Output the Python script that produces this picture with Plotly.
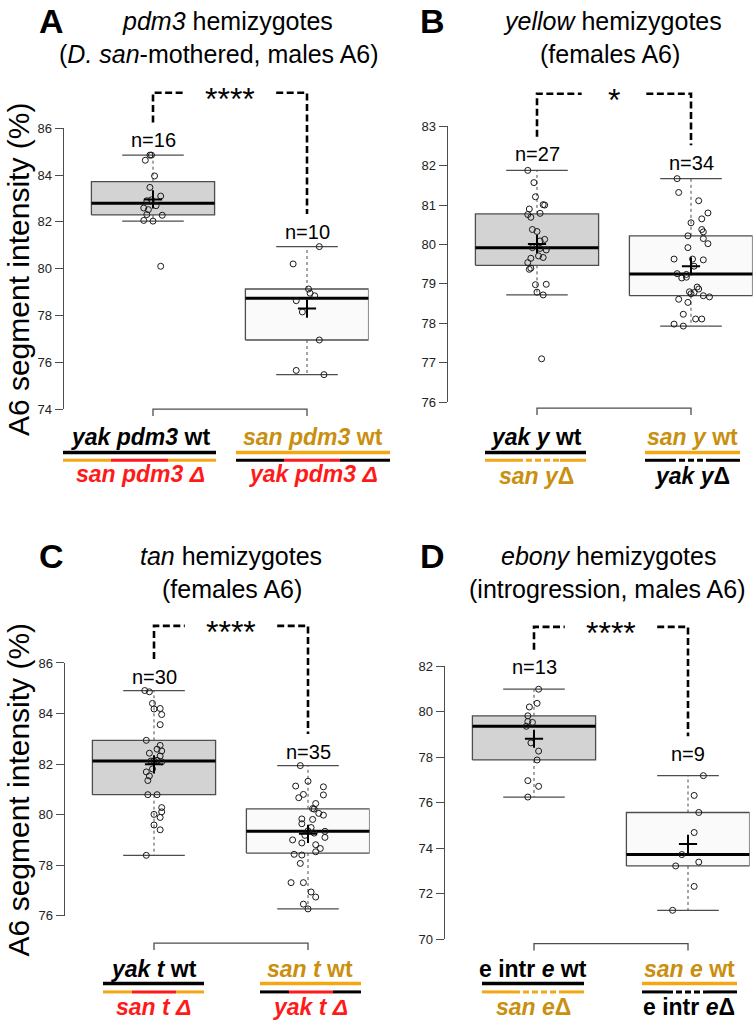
import math
import plotly.graph_objects as go

W, H = 754, 1028
FONT = "Liberation Sans, Arial, sans-serif"

# ---------------- data ----------------
# Panel A: pdm3 hemizygotes
pdm3_yak_wt = [84.85, 84.85, 84.63, 83.96, 83.47, 83.10, 82.94, 82.90, 82.69, 82.59, 82.52, 82.31, 82.28, 82.06, 82.03, 80.10]
pdm3_yak_wt_jit = [-0.02, -0.01, -0.05, 0.01, -0.02, 0.05, -0.01, -0.04, 0.02, -0.06, -0.03, -0.04, 0.06, -0.06, 0.00, 0.05]
pdm3_san_wt = [80.94, 80.20, 79.13, 78.95, 78.84, 78.63, 78.15, 76.95, 75.65, 75.47]
pdm3_san_wt_jit = [0.08, -0.09, 0.01, 0.02, 0.05, -0.07, -0.03, 0.08, -0.07, 0.11]
pdm3_ticks = [74, 76, 78, 80, 82, 84, 86]

# Panel B: yellow hemizygotes
y_yak_wt = [81.88, 81.57, 81.21, 81.01, 81.00, 80.90, 80.79, 80.76, 80.69, 80.38, 80.33, 80.13, 80.09, 79.92,
            79.90, 79.86, 79.71, 79.67, 79.65, 79.54, 79.40, 79.37, 78.99, 78.98, 78.79, 78.72, 77.10]
y_yak_wt_jit = [-0.06, -0.02, -0.01, 0.04, 0.05, -0.05, 0.02, -0.06, -0.04, -0.03, 0.00, 0.05, 0.02, -0.03,
                0.02, 0.06, 0.01, 0.04, -0.04, -0.06, -0.04, -0.05, 0.06, -0.01, 0.00, 0.04, 0.03]
y_san_wt = [81.67, 81.32, 81.11, 80.80, 80.65, 80.55, 80.38, 80.32, 80.22, 80.15, 80.02, 79.92, 79.63, 79.63,
            79.61, 79.45, 79.26, 79.24, 79.17, 79.15, 78.92, 78.87, 78.80, 78.78, 78.75, 78.70, 78.67, 78.61,
            78.53, 78.23, 78.11, 78.11, 77.98, 77.93]
y_san_wt_jit = [-0.09, -0.08, 0.05, 0.11, 0.07, 0.00, 0.07, 0.08, -0.02, 0.08, 0.11, -0.02, -0.11, 0.01,
                0.08, 0.02, -0.09, -0.03, -0.03, -0.06, 0.04, 0.05, -0.01, 0.02, 0.00, 0.08, 0.12, -0.08,
                -0.02, -0.05, 0.03, 0.07, -0.11, -0.05]
y_ticks = [76, 77, 78, 79, 80, 81, 82, 83]

# Panel C: tan hemizygotes
t_yak_wt = [84.91, 84.86, 84.40, 84.20, 84.18, 83.96, 83.56, 82.94, 82.74, 82.59, 82.52, 82.43, 82.32, 82.15,
            82.13, 82.12, 82.09, 81.81, 81.69, 81.53, 81.35, 80.79, 80.79, 80.28, 80.11, 80.01, 79.89, 79.59,
            79.40, 78.39]
t_yak_wt_jit = [-0.06, -0.03, -0.01, 0.04, 0.00, 0.05, 0.04, -0.05, 0.04, 0.02, 0.05, -0.03, 0.04, 0.02,
                0.00, -0.02, 0.05, -0.01, -0.05, -0.03, -0.04, -0.04, 0.02, 0.05, 0.05, 0.00, 0.04, 0.00,
                0.04, -0.05]
t_san_wt = [81.94, 81.32, 81.13, 81.10, 80.80, 80.78, 80.67, 80.44, 80.24, 80.22, 80.05, 79.98, 79.83, 79.81,
            79.64, 79.49, 79.36, 79.34, 79.27, 79.18, 79.10, 79.00, 78.88, 78.81, 78.66, 78.53, 78.43, 78.40,
            78.07, 77.31, 77.31, 76.94, 76.74, 76.46, 76.27]
t_san_wt_jit = [-0.05, 0.00, -0.08, 0.10, -0.03, 0.10, -0.06, 0.05, 0.03, 0.04, 0.07, 0.10, -0.04, 0.03,
                -0.04, 0.02, 0.00, 0.11, 0.04, -0.02, 0.11, -0.10, -0.04, 0.05, 0.08, 0.05, -0.09, -0.04,
                -0.05, -0.11, -0.03, 0.02, 0.05, -0.03, 0.00]
t_ticks = [76, 78, 80, 82, 84, 86]

# Panel D: ebony hemizygotes
e_intr_wt = [80.99, 80.37, 80.21, 79.82, 79.57, 79.53, 79.36, 78.63, 78.27, 77.88, 76.97, 76.72, 76.25]
e_intr_wt_jit = [0.03, 0.02, -0.03, -0.04, -0.04, -0.01, -0.05, -0.02, 0.03, 0.02, -0.04, 0.03, -0.04]
e_san_wt = [77.19, 76.32, 75.57, 74.69, 73.72, 73.39, 73.22, 72.32, 71.27]
e_san_wt_jit = [0.10, 0.04, 0.07, 0.04, -0.04, 0.07, -0.08, 0.04, -0.10]
e_ticks = [70, 72, 74, 76, 78, 80, 82]

# ---------------- colours ----------------
GRAY_BOX = "#d3d3d3"
WHITE_BOX = "#fafafa"
EDGE = "#4d4d4d"
ORANGE = "#f3a712"
GOLD = "#c98f0e"
RED = "#ff1a1a"

# ---------------- layout geometry (pixels) ----------------
panels = [
    dict(letter="A", g1=(pdm3_yak_wt, pdm3_yak_wt_jit), g2=(pdm3_san_wt, pdm3_san_wt_jit), ticks=pdm3_ticks,
         c1=153, p_hi=123, p_lo=408, top=60, bot=425, base=408, sig=87, stars="****", gap=0.3, nshift=15,
         t1="<i>pdm3</i> hemizygotes", t2="(<i>D. san</i>-mothered, males A6)", tx1=228, tx2=219, ty=14),
    dict(letter="B", g1=(y_yak_wt, y_yak_wt_jit), g2=(y_san_wt, y_san_wt_jit), ticks=y_ticks,
         c1=537, p_hi=121, p_lo=401, top=60, bot=425, base=407, sig=88, stars="*", gap=0.21, nshift=16,
         t1="<i>yellow</i> hemizygotes", t2="(females A6)", tx1=612, tx2=610, ty=14),
    dict(letter="C", g1=(t_yak_wt, t_yak_wt_jit), g2=(t_san_wt, t_san_wt_jit), ticks=t_ticks,
         c1=154, p_hi=665.7, p_lo=922.2, top=600, bot=965, base=950, sig=628, stars="****", gap=0.3, nshift=14,
         t1="<i>tan</i> hemizygotes", t2="(females A6)", tx1=231, tx2=232, ty=557),
    dict(letter="D", g1=(e_intr_wt, e_intr_wt_jit), g2=(e_san_wt, e_san_wt_jit), ticks=e_ticks,
         c1=534, p_hi=669, p_lo=946, top=600, bot=965, base=950.5, sig=629, stars="****", gap=0.3, nshift=22,
         t1="<i>ebony</i> hemizygotes", t2="(introgression, males A6)", tx1=608, tx2=607, ty=557),
]
UNIT = 154.0
XR = (0.42, 2.4)


def fivenum_stats(vals):
    x = sorted(vals)
    n = len(x)
    n4 = math.floor((n + 3) / 2) / 2
    idx = [1, n4, (n + 1) / 2, n + 1 - n4, n]
    fn = [0.5 * (x[math.floor(i) - 1] + x[math.ceil(i) - 1]) for i in idx]
    iqr = fn[3] - fn[1]
    lo = min(v for v in x if v >= fn[1] - 1.5 * iqr)
    hi = max(v for v in x if v <= fn[3] + 1.5 * iqr)
    return dict(q1=fn[1], med=fn[2], q3=fn[3], lo=lo, hi=hi, mean=sum(x) / n, n=n)


fig = go.Figure()
annotations = []
shapes = []


def px2x(px):
    return px / W


def px2y(py):
    return 1 - py / H


def add_line(x0, x1, y, color, width=3.5, dash=None):
    ln = dict(color=color, width=width)
    if dash:
        ln["dash"] = dash
    shapes.append(dict(type="line", xref="paper", yref="paper", x0=px2x(x0), x1=px2x(x1),
                       y0=px2y(y), y1=px2y(y), line=ln))


def add_text(x, y, text, size, color="black", angle=0, xanchor="center"):
    annotations.append(dict(x=px2x(x), y=px2y(y), xref="paper", yref="paper", text=text, showarrow=False,
                            xanchor=xanchor, yanchor="middle", textangle=angle,
                            font=dict(family=FONT, size=size, color=color)))


for k, p in enumerate(panels, start=1):
    xa = "x" if k == 1 else f"x{k}"
    ya = "y" if k == 1 else f"y{k}"
    yt = f"y{k + 4}"
    tlo, thi = min(p["ticks"]), max(p["ticks"])
    s = (p["p_lo"] - p["p_hi"]) / (thi - tlo)

    def v(py, p=p, s=s, thi=thi):
        return thi - (py - p["p_hi"]) / s

    left_px = p["c1"] - (1 - XR[0]) * UNIT
    right_px = p["c1"] + (XR[1] - 1) * UNIT
    xdom = [left_px / W, min(right_px / W, 1.0)]

    fig.layout[f"xaxis{'' if k == 1 else k}"] = dict(domain=xdom, range=list(XR), visible=False,
                                                     anchor=ya, fixedrange=True)
    fig.layout[f"yaxis{'' if k == 1 else k}"] = dict(domain=[px2y(p["bot"]), px2y(p["top"])],
                                                     range=[v(p["bot"]), v(p["top"])], visible=False,
                                                     anchor=xa, fixedrange=True)
    fig.layout[f"yaxis{k + 4}"] = dict(domain=[px2y(p["p_lo"]), px2y(p["p_hi"])], range=[tlo, thi],
                                       anchor=xa, showline=True, linecolor=EDGE, linewidth=1,
                                       ticks="outside", ticklen=8, tickcolor=EDGE, tickwidth=1,
                                       tickvals=p["ticks"], ticktext=[str(t) for t in p["ticks"]],
                                       tickfont=dict(family=FONT, size=13, color="#222"),
                                       showgrid=False, zeroline=False, fixedrange=True)
    fig.add_trace(go.Scatter(x=[None], y=[None], xaxis=xa, yaxis=yt, showlegend=False, hoverinfo="skip"))

    stats = []
    for g, (vals, jit), fill in [(1, p["g1"], GRAY_BOX), (2, p["g2"], WHITE_BOX)]:
        st = fivenum_stats(vals)
        stats.append(st)
        common = dict(xaxis=xa, yaxis=ya, showlegend=False, hoverinfo="skip")
        fig.add_trace(go.Scatter(x=[g - 0.4, g + 0.4, g + 0.4, g - 0.4, g - 0.4],
                                 y=[st["q1"], st["q1"], st["q3"], st["q3"], st["q1"]],
                                 mode="lines", fill="toself", fillcolor=fill,
                                 line=dict(color=EDGE, width=1.3), **common))
        fig.add_trace(go.Scatter(x=[g, g, None, g, g], y=[st["q3"], st["hi"], None, st["q1"], st["lo"]],
                                 mode="lines", line=dict(color=EDGE, width=1, dash="3px,3px"), **common))
        fig.add_trace(go.Scatter(x=[g - 0.2, g + 0.2, None, g - 0.2, g + 0.2],
                                 y=[st["hi"], st["hi"], None, st["lo"], st["lo"]],
                                 mode="lines", line=dict(color=EDGE, width=1.3), **common))
        fig.add_trace(go.Scatter(x=[g - 0.4, g + 0.4], y=[st["med"], st["med"]], mode="lines",
                                 line=dict(color="black", width=3), **common))
        fig.add_trace(go.Scatter(x=[g + j for j in jit], y=vals, mode="markers",
                                 marker=dict(symbol="circle-open", size=6, color="#1a1a1a", line=dict(width=1)),
                                 **common))
        fig.add_trace(go.Scatter(x=[g], y=[st["mean"]], mode="markers",
                                 marker=dict(symbol="cross-thin", size=13, color="black",
                                             line=dict(width=2, color="black")), **common))
        annotations.append(dict(x=g, y=st["hi"], xref=xa, yref=ya, text=f"n={st['n']}", showarrow=False,
                                yanchor="middle", yshift=p["nshift"],
                                font=dict(family=FONT, size=20, color="black")))

    # bottom bracket (x axis line between group centres)
    pb = p["base"]
    fig.add_trace(go.Scatter(x=[1, 1, 2, 2], y=[v(pb + 7), v(pb), v(pb), v(pb + 7)], mode="lines",
                             line=dict(color=EDGE, width=1.3), xaxis=xa, yaxis=ya, showlegend=False,
                             hoverinfo="skip"))

    # significance bracket
    def hi_px(st, p=p, s=s, thi=thi):
        return p["p_hi"] + (thi - st["hi"]) * s - p["nshift"]

    gap = p["gap"]
    sig_line = dict(color="black", width=2.6, dash="7px,3.5px")
    fig.add_trace(go.Scatter(x=[1, 1, 1.5 - gap], y=[v(hi_px(stats[0]) - 18), v(p["sig"]), v(p["sig"])],
                             mode="lines", line=sig_line, xaxis=xa, yaxis=ya, showlegend=False,
                             hoverinfo="skip"))
    fig.add_trace(go.Scatter(x=[1.5 + gap, 2, 2], y=[v(p["sig"]), v(p["sig"]), v(hi_px(stats[1]) - 18)],
                             mode="lines", line=sig_line, xaxis=xa, yaxis=ya, showlegend=False,
                             hoverinfo="skip"))
    annotations.append(dict(x=1.5, y=v(p["sig"]), xref=xa, yref=ya, text=p["stars"], showarrow=False,
                            yanchor="middle", yshift=-6, font=dict(family=FONT, size=32, color="black")))

    # titles and panel letter
    add_text(p["tx1"], p["ty"], p["t1"], 25)
    add_text(p["tx2"], p["ty"] + 34, p["t2"], 25)
    lx = 51 if p["letter"] in "AC" else 432
    add_text(lx, p["ty"], f"<b>{p['letter']}</b>", 34)

# y axis titles
add_text(18, 267, "A6 segment intensity (%)", 30, angle=-90)
add_text(18, 795, "A6 segment intensity (%)", 30, angle=-90)

# ---------------- genotype labels ----------------
LBL = 23
# A
add_text(140, 436, "<b><i>yak pdm3</i> wt</b>", LBL, "black")
add_text(140, 474, "<b><i>san pdm3 Δ</i></b>", LBL, RED)
add_line(63, 216, 452, "black")
add_line(63, 111, 460, ORANGE, 3)
add_line(111, 168, 460, RED, 3)
add_line(168, 216, 460, ORANGE, 3)
add_text(313, 436, "<b><i>san pdm3</i> wt</b>", LBL, GOLD)
add_text(313, 474, "<b><i>yak pdm3 Δ</i></b>", LBL, RED)
add_line(236, 390, 452, ORANGE)
add_line(236, 284, 460, "black", 3)
add_line(284, 340, 460, RED, 3)
add_line(340, 390, 460, "black", 3)
# B
add_text(536, 436, "<b><i>yak y</i> wt</b>", LBL, "black")
add_text(536, 476, "<b><i>san y</i>Δ</b>", LBL, GOLD)
add_line(485, 586, 452, "black")
add_line(485, 517, 460, ORANGE, 3)
add_line(517, 560, 460, ORANGE, 3, "6px,3px")
add_line(560, 586, 460, ORANGE, 3)
add_text(692, 436, "<b><i>san y</i> wt</b>", LBL, GOLD)
add_text(692, 476, "<b><i>yak y</i>Δ</b>", LBL, "black")
add_line(645, 740, 452, ORANGE)
add_line(645, 670, 460, "black", 3)
add_line(670, 710, 460, "black", 3, "6px,3px")
add_line(710, 740, 460, "black", 3)
# C
add_text(154, 976, "<b><i>yak t</i> wt</b>", LBL, "black")
add_text(154, 1015, "<b><i>san t Δ</i></b>", LBL, RED)
add_line(103, 204, 991, "black")
add_line(103, 132, 999.5, ORANGE, 3)
add_line(132, 176, 999.5, RED, 3)
add_line(176, 204, 999.5, ORANGE, 3)
add_text(310, 976, "<b><i>san t</i> wt</b>", LBL, GOLD)
add_text(310, 1015, "<b><i>yak t Δ</i></b>", LBL, RED)
add_line(260, 361, 991, ORANGE)
add_line(260, 289, 999.5, "black", 3)
add_line(289, 333, 999.5, RED, 3)
add_line(333, 361, 999.5, "black", 3)
# D
add_text(533, 976, "<b>e intr <i>e</i> wt</b>", LBL, "black")
add_text(533, 1015, "<b><i>san e</i>Δ</b>", LBL, GOLD)
add_line(482, 584, 991, "black")
add_line(482, 514, 999.5, ORANGE, 3)
add_line(514, 559, 999.5, ORANGE, 3, "6px,3px")
add_line(559, 584, 999.5, ORANGE, 3)
add_text(689, 976, "<b><i>san e</i> wt</b>", LBL, GOLD)
add_text(689, 1015, "<b>e intr <i>e</i>Δ</b>", LBL, "black")
add_line(642, 737, 991, ORANGE)
add_line(642, 667, 999.5, "black", 3)
add_line(667, 707, 999.5, "black", 3, "6px,3px")
add_line(707, 737, 999.5, "black", 3)

fig.update_layout(width=W, height=H, margin=dict(l=0, r=0, t=0, b=0), paper_bgcolor="white",
                  plot_bgcolor="rgba(0,0,0,0)", showlegend=False, annotations=annotations, shapes=shapes,
                  font=dict(family=FONT))
fig.write_html("out.html", config={"displayModeBar": False},
               post_script="document.body.style.margin='0px';document.body.style.overflow='hidden';")
